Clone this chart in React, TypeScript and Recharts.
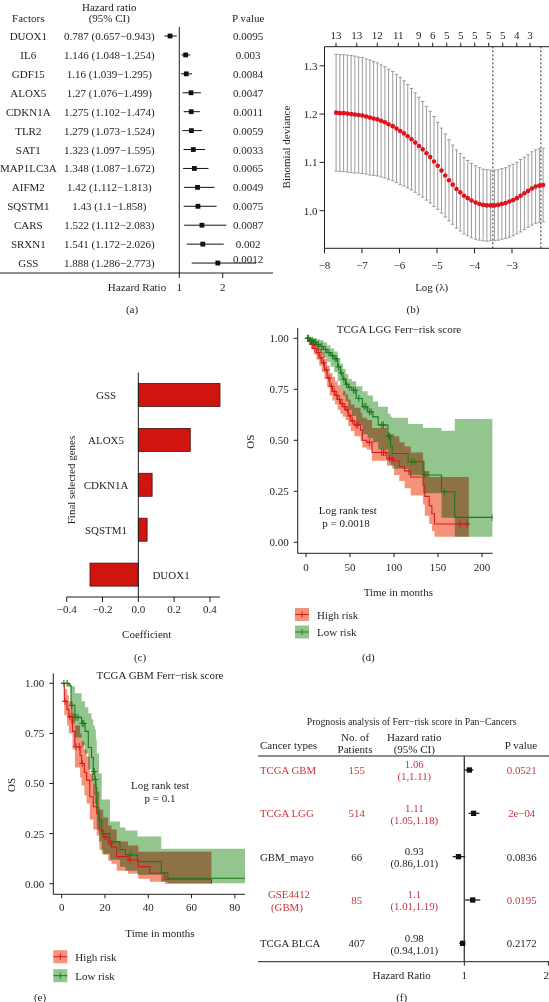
import React from 'react';
import {
  ComposedChart, BarChart, Bar, Line, Area, Scatter, XAxis, YAxis,
  ErrorBar, ReferenceLine,
} from 'recharts';

const W = 549;
const H = 1002;
const FONT = "'Liberation Serif', 'Times New Roman', 'DejaVu Serif', serif";
const INK = '#1e1e1e';
const RED_TXT = '#c9343c';

// ---------------- (a) univariate Cox forest ----------------
const factorNames = ['DUOX1', 'IL6', 'GDF15', 'ALOX5', 'CDKN1A', 'TLR2', 'SAT1', 'MAP1LC3A', 'AIFM2', 'SQSTM1', 'CARS', 'SRXN1', 'GSS'];
const factorHR = [0.787, 1.146, 1.16, 1.27, 1.275, 1.279, 1.323, 1.348, 1.42, 1.43, 1.522, 1.541, 1.888];
const factorLow = [0.657, 1.048, 1.039, 1.076, 1.102, 1.073, 1.097, 1.087, 1.112, 1.1, 1.112, 1.172, 1.286];
const factorHigh = [0.943, 1.254, 1.295, 1.499, 1.474, 1.524, 1.595, 1.672, 1.813, 1.858, 2.083, 2.026, 2.773];
const factorHRText = ['0.787 (0.657−0.943)', '1.146 (1.048−1.254)', '1.16 (1.039−1.295)', '1.27 (1.076−1.499)', '1.275 (1.102−1.474)', '1.279 (1.073−1.524)', '1.323 (1.097−1.595)', '1.348 (1.087−1.672)', '1.42 (1.112−1.813)', '1.43 (1.1−1.858)', '1.522 (1.112−2.083)', '1.541 (1.172−2.026)', '1.888 (1.286−2.773)'];
const factorP = ['0.0095', '0.003', '0.0084', '0.0047', '0.0011', '0.0059', '0.0033', '0.0065', '0.0049', '0.0075', '0.0087', '0.002', '0.0012'];
const hrTicksA = [1, 2];

// ---------------- (b) LASSO CV curve ----------------
const logLambda = [-7.69, -7.59, -7.49, -7.39, -7.29, -7.19, -7.09, -6.99, -6.89, -6.79, -6.69, -6.59, -6.49, -6.39, -6.29, -6.18, -6.08, -5.98, -5.88, -5.78, -5.68, -5.58, -5.48, -5.38, -5.28, -5.18, -5.08, -4.98, -4.88, -4.78, -4.68, -4.58, -4.48, -4.38, -4.28, -4.18, -4.08, -3.97, -3.87, -3.77, -3.67, -3.57, -3.47, -3.37, -3.27, -3.17, -3.07, -2.97, -2.87, -2.77, -2.67, -2.57, -2.47, -2.37, -2.27, -2.17];
const devMean = [1.203, 1.202, 1.202, 1.201, 1.2, 1.199, 1.198, 1.197, 1.195, 1.193, 1.191, 1.189, 1.186, 1.183, 1.179, 1.175, 1.17, 1.165, 1.16, 1.154, 1.148, 1.141, 1.134, 1.127, 1.119, 1.111, 1.102, 1.093, 1.083, 1.073, 1.063, 1.054, 1.045, 1.038, 1.031, 1.026, 1.021, 1.017, 1.014, 1.012, 1.011, 1.011, 1.011, 1.012, 1.014, 1.016, 1.019, 1.022, 1.026, 1.031, 1.036, 1.041, 1.046, 1.05, 1.052, 1.053];
const devSE = [0.121, 0.121, 0.121, 0.121, 0.121, 0.121, 0.12, 0.12, 0.119, 0.119, 0.118, 0.117, 0.116, 0.115, 0.114, 0.113, 0.112, 0.111, 0.109, 0.107, 0.105, 0.103, 0.101, 0.099, 0.097, 0.095, 0.093, 0.09, 0.088, 0.086, 0.084, 0.082, 0.081, 0.08, 0.079, 0.078, 0.077, 0.076, 0.075, 0.074, 0.074, 0.073, 0.073, 0.073, 0.073, 0.073, 0.074, 0.074, 0.074, 0.075, 0.075, 0.075, 0.076, 0.076, 0.076, 0.076];
const topTickPos = [-7.693, -7.141, -6.592, -6.032, -5.488, -5.115, -4.741, -4.368, -3.995, -3.621, -3.248, -2.875, -2.52];
const topTickLabels = ['13', '13', '12', '11', '9', '6', '5', '5', '5', '5', '5', '4', '3'];
const lambdaMin = -3.51;
const lambda1se = -2.23;
const xTicksB = [-8, -7, -6, -5, -4, -3];
const yTicksB = [1.0, 1.1, 1.2, 1.3];

// ---------------- (c) coefficients ----------------
const genes = ['GSS', 'ALOX5', 'CDKN1A', 'SQSTM1', 'DUOX1'];
const coefs = [0.456, 0.29, 0.077, 0.049, -0.27];
const coefTicks = [-0.4, -0.2, 0, 0.2, 0.4];

// ---------------- (d) TCGA LGG KM ----------------
const lggHighT = [0, 3, 6, 9, 12, 15, 18, 21, 24, 27, 30, 33, 36, 39, 42, 45, 48, 51, 55, 62, 64, 69, 75, 92, 100, 106, 112, 119, 133, 135, 140, 143, 146, 185];
const lggHighS = [1, 0.985, 0.97, 0.95, 0.93, 0.905, 0.88, 0.845, 0.805, 0.765, 0.74, 0.72, 0.7, 0.68, 0.665, 0.648, 0.62, 0.595, 0.575, 0.55, 0.5, 0.49, 0.44, 0.41, 0.4, 0.37, 0.35, 0.32, 0.28, 0.225, 0.18, 0.14, 0.09, 0.09];
const lggHighUp = [1, 1, 0.995, 0.985, 0.97, 0.95, 0.93, 0.9, 0.865, 0.83, 0.81, 0.79, 0.77, 0.755, 0.74, 0.725, 0.7, 0.675, 0.66, 0.635, 0.61, 0.6, 0.56, 0.53, 0.52, 0.49, 0.47, 0.44, 0.4, 0.35, 0.32, 0.32, 0.32, 0.32];
const lggHighLow = [1, 0.97, 0.945, 0.92, 0.895, 0.865, 0.835, 0.8, 0.76, 0.72, 0.695, 0.675, 0.65, 0.63, 0.615, 0.6, 0.57, 0.545, 0.52, 0.495, 0.465, 0.455, 0.4, 0.375, 0.33, 0.3, 0.265, 0.23, 0.185, 0.13, 0.09, 0.055, 0.027, 0.027];
const lggHighCens = [2, 5, 7, 10, 14, 17, 20, 23, 26, 29, 32, 35, 38, 41, 44, 47, 50, 53, 57, 59, 72, 86, 88, 90, 95, 98, 175, 183];

const lggLowT = [0, 4, 8, 12, 16, 20, 24, 28, 32, 36, 39, 42, 45, 48, 52, 57, 64, 70, 76, 82, 93, 96, 98, 116, 133, 154, 169, 212];
const lggLowS = [1, 0.99, 0.98, 0.97, 0.96, 0.945, 0.93, 0.915, 0.9, 0.86, 0.83, 0.8, 0.775, 0.76, 0.745, 0.705, 0.665, 0.64, 0.615, 0.575, 0.52, 0.47, 0.435, 0.395, 0.33, 0.248, 0.122, 0.122];
const lggLowUp = [1, 1, 1, 0.995, 0.99, 0.98, 0.965, 0.95, 0.935, 0.9, 0.875, 0.85, 0.825, 0.8, 0.79, 0.765, 0.74, 0.72, 0.69, 0.665, 0.63, 0.615, 0.61, 0.58, 0.56, 0.547, 0.604, 0.604];
const lggLowLow = [1, 0.975, 0.96, 0.94, 0.925, 0.905, 0.885, 0.86, 0.835, 0.79, 0.755, 0.72, 0.69, 0.65, 0.62, 0.575, 0.53, 0.51, 0.49, 0.455, 0.4, 0.38, 0.36, 0.33, 0.24, 0.12, 0.027, 0.027];
const lggLowCens = [2, 3, 5, 7, 9, 11, 14, 18, 22, 26, 30, 33, 35, 37, 40, 43, 46, 49, 54, 56, 60, 66, 68, 72, 74, 86, 88, 94, 95, 120, 123, 135, 157, 211.5];
const lggTicks = [0, 50, 100, 150, 200];

// ---------------- (e) TCGA GBM KM ----------------
const gbmHighT = [0, 1.2, 2.5, 3.3, 5, 6.1, 8.5, 9.2, 10.5, 11.5, 13, 14.6, 16.2, 17.4, 19.2, 21.5, 23, 25.4, 30.7, 35.4, 40.7, 47.7, 69.2];
const gbmHighS = [1, 0.91, 0.87, 0.833, 0.76, 0.684, 0.64, 0.6, 0.555, 0.517, 0.434, 0.384, 0.35, 0.267, 0.234, 0.2, 0.184, 0.135, 0.118, 0.085, 0.052, 0.022, 0];
const gbmHighUp = [1, 0.97, 0.94, 0.91, 0.85, 0.79, 0.75, 0.71, 0.67, 0.635, 0.55, 0.5, 0.46, 0.37, 0.33, 0.29, 0.27, 0.21, 0.19, 0.16, 0.16, 0.16, 0.16];
const gbmHighLow = [1, 0.84, 0.79, 0.75, 0.67, 0.58, 0.53, 0.49, 0.44, 0.4, 0.32, 0.27, 0.24, 0.17, 0.145, 0.115, 0.1, 0.065, 0.05, 0.025, 0.01, 0, 0];
const gbmHighCens = [1.5, 3.8, 6.6, 8.1, 9.5, 20.1, 22.8, 31.6];

const gbmLowT = [0, 3.2, 4.3, 6.1, 9.2, 10.8, 12.3, 13.8, 14.6, 15.3, 15.8, 16.2, 17.2, 18.5, 22.3, 26.9, 29.5, 35, 46, 49, 84.7];
const gbmLowS = [1, 0.99, 0.89, 0.83, 0.8, 0.76, 0.68, 0.63, 0.56, 0.52, 0.48, 0.38, 0.317, 0.25, 0.21, 0.17, 0.143, 0.11, 0.055, 0.027, 0.027];
const gbmLowUp = [1, 1, 0.985, 0.95, 0.91, 0.88, 0.85, 0.82, 0.79, 0.77, 0.72, 0.65, 0.55, 0.42, 0.31, 0.28, 0.265, 0.235, 0.175, 0.175, 0.175];
const gbmLowLow = [1, 0.98, 0.8, 0.73, 0.69, 0.65, 0.57, 0.51, 0.44, 0.4, 0.36, 0.27, 0.21, 0.15, 0.12, 0.085, 0.065, 0.045, 0.01, 0.002, 0.002];
const gbmLowCens = [1, 2.5, 4.6, 6.5, 7.5, 9.5, 10.2, 14.8, 15, 15.5, 31.7];
const gbmTicks = [0, 20, 40, 60, 80];

const survTicks = [0, 0.25, 0.5, 0.75, 1];

// ---------------- (f) pan-cancer forest ----------------
const cohorts = [['TCGA GBM'], ['TCGA LGG'], ['GBM_mayo'], ['GSE4412', '(GBM)'], ['TCGA BLCA']];
const cohortN = ['155', '514', '66', '85', '407'];
const cohortHR = [1.06, 1.11, 0.93, 1.1, 0.98];
const cohortLow = [1, 1.05, 0.86, 1.01, 0.94];
const cohortHigh = [1.11, 1.18, 1.01, 1.19, 1.01];
const cohortHRText = [['1.06', '(1,1.11)'], ['1.11', '(1.05,1.18)'], ['0.93', '(0.86,1.01)'], ['1.1', '(1.01,1.19)'], ['0.98', '(0.94,1.01)']];
const cohortP = ['0.0521', '2e−04', '0.0836', '0.0195', '0.2172'];
const cohortSig = [true, true, false, true, false];
const hrTicksF = [1, 2];

// ---------------- helpers ----------------
const minus = (s: string) => s.replace('-', '−');
const stepAt = (T: number[], S: number[], t: number) => {
  let v = S[0];
  for (let i = 0; i < T.length; i++) if (T[i] <= t) v = S[i];
  return v;
};
const kmRows = (T: number[], S: number[], LO: number[], UP: number[]) =>
  T.map((t, i) => ({ t, s: S[i], lo: LO[i], hi: UP[i] }));
const censRows = (C: number[], T: number[], S: number[]) => C.map((t) => ({ t, s: stepAt(T, S, t) }));

const tickStyle = { fill: INK, fontSize: 11, fontFamily: FONT };

const forestA = factorNames.map((name, i) => ({
  row: i, hr: factorHR[i], err: [factorHR[i] - factorLow[i], factorHigh[i] - factorHR[i]],
  name, hrText: factorHRText[i], p: factorP[i],
}));
const cvData = logLambda.map((x, i) => ({ x, mean: devMean[i], se: devSE[i] }));
const coefData = genes.map((gene, i) => ({ gene, coef: coefs[i] }));
const forestF = cohorts.map((name, i) => ({
  row: i + 1, hr: cohortHR[i], err: [cohortHR[i] - cohortLow[i], cohortHigh[i] - cohortHR[i]],
  name, n: cohortN[i], hrText: cohortHRText[i], p: cohortP[i], sig: cohortSig[i],
}));

const Square = (size: number) => (p: any) => (
  <rect x={p.cx - size / 2} y={p.cy - size / 2} width={size} height={size} fill="#111" />
);
const Empty = () => <g />;
const Plus = (color: string) => (p: any) => (
  <g stroke={color} strokeWidth={1}>
    <line x1={p.cx - 3} x2={p.cx + 3} y1={p.cy} y2={p.cy} />
    <line x1={p.cx} x2={p.cx} y1={p.cy - 3.5} y2={p.cy + 3.5} />
  </g>
);

const FactorRowText = (p: any) => {
  const d = p.payload;
  const cy = p.cy;
  const pdy = d.row === factorNames.length - 1 ? -4.5 : 0;
  return (
    <g fontFamily={FONT} fontSize={11} fill={INK}>
      <text x={28.3} y={cy} textAnchor="middle" dominantBaseline="central">{d.name}</text>
      <text x={109.3} y={cy} textAnchor="middle" dominantBaseline="central">{d.hrText}</text>
      <text x={248.2} y={cy + pdy} textAnchor="middle" dominantBaseline="central">{d.p}</text>
    </g>
  );
};

const CohortRowText = (p: any) => {
  const d = p.payload;
  const cy = p.cy;
  const c = d.sig ? RED_TXT : INK;
  return (
    <g fontFamily={FONT} fontSize={10.8} fill={c}>
      {d.name.length === 1 ? (
        <text x={260} y={cy} dominantBaseline="central">{d.name[0]}</text>
      ) : (
        <>
          <text x={268} y={cy - 6} dominantBaseline="central">{d.name[0]}</text>
          <text x={271} y={cy + 7} dominantBaseline="central">{d.name[1]}</text>
        </>
      )}
      <text x={356.7} y={cy} textAnchor="middle" dominantBaseline="central">{d.n}</text>
      <text x={414.3} y={cy - 5.5} textAnchor="middle" dominantBaseline="central">{d.hrText[0]}</text>
      <text x={414.3} y={cy + 6.5} textAnchor="middle" dominantBaseline="central">{d.hrText[1]}</text>
      <text x={521.7} y={cy} textAnchor="middle" dominantBaseline="central">{d.p}</text>
    </g>
  );
};

const CoefBar = (p: any) => {
  const { x, y, width, height, payload } = p;
  const left = Math.min(x, x + width);
  const w = Math.abs(width);
  const pos = payload.coef >= 0;
  const zero = pos ? left : left + w;
  return (
    <g>
      <rect x={left} y={y} width={w} height={height} fill="#d0140f" stroke="#4a1212" strokeWidth={0.8} />
      <text x={pos ? zero - 32.3 : zero + 32.7} y={y + height / 2} textAnchor="middle" dominantBaseline="central"
        fontFamily={FONT} fontSize={11} fill={INK}>{payload.gene}</text>
    </g>
  );
};

const full = { position: 'absolute' as const, left: 0, top: 0 };

function KM(props: any) {
  const { hi, lo, hiC, loC, margin, xDomain, xTicks, yDomain, xMargin } = props;
  return (
    <div style={full}>
      <ComposedChart width={W} height={H} margin={margin}>
        <XAxis dataKey="t" type="number" domain={xDomain} ticks={xTicks} allowDataOverflow height={30}
          tickSize={4} tickMargin={xMargin} stroke={INK} tick={tickStyle} />
        <YAxis type="number" domain={yDomain} ticks={survTicks} allowDataOverflow width={40}
          tickSize={4} tickMargin={5} stroke={INK} tick={tickStyle} tickFormatter={(v: number) => v.toFixed(2)} />
        <Area data={hi} dataKey={(d: any) => [d.lo, d.hi]} type="stepAfter" fill="#f4937a" fillOpacity={1}
          stroke="none" isAnimationActive={false} activeDot={false} />
        <Area data={lo} dataKey={(d: any) => [d.lo, d.hi]} type="stepAfter" fill="#93c58f" fillOpacity={1}
          stroke="none" className="km-mult" isAnimationActive={false} activeDot={false} />
        <Line data={hi} dataKey="s" type="stepAfter" stroke="#d7191c" strokeWidth={1.1} dot={false} activeDot={false} isAnimationActive={false} />
        <Line data={lo} dataKey="s" type="stepAfter" stroke="#1a7a1a" strokeWidth={1.1} dot={false} activeDot={false} isAnimationActive={false} />
        <Scatter data={hiC} dataKey="s" shape={Plus('#d7191c')} isAnimationActive={false} />
        <Scatter data={loC} dataKey="s" shape={Plus('#1a7a1a')} isAnimationActive={false} />
      </ComposedChart>
    </div>
  );
}

const LegendKey = ({ x, y, fill, stroke, label }: any) => (
  <g>
    <rect x={x} y={y - 6.5} width={14} height={13} fill={fill} />
    <line x1={x} x2={x + 14} y1={y} y2={y} stroke={stroke} strokeWidth={1} />
    <line x1={x + 7} x2={x + 7} y1={y - 3} y2={y + 3} stroke={stroke} strokeWidth={1} />
    <text x={x + 22} y={y} dominantBaseline="central" fontFamily={FONT} fontSize={11} fill={INK}>{label}</text>
  </g>
);

const T = ({ x, y, children, anchor = 'middle', size = 11, rotate = false, fill = INK }: any) => (
  <text x={x} y={y} textAnchor={anchor} dominantBaseline="central" fontFamily={FONT} fontSize={size} fill={fill}
    transform={rotate ? `rotate(-90 ${x} ${y})` : undefined}>{children}</text>
);

export default function App() {
  const lggHi = kmRows(lggHighT, lggHighS, lggHighLow, lggHighUp);
  const lggLo = kmRows(lggLowT, lggLowS, lggLowLow, lggLowUp);
  const gbmHi = kmRows(gbmHighT, gbmHighS, gbmHighLow, gbmHighUp);
  const gbmLo = kmRows(gbmLowT, gbmLowS, gbmLowLow, gbmLowUp);

  return (
    <div style={{ position: 'absolute', left: 0, top: 0, width: W, height: H, overflow: 'hidden', background: '#fff' }}>
      <style>{`.km-mult { mix-blend-mode: multiply; }`}</style>

      {/* (a) */}
      <div style={full}>
        <ComposedChart width={W} height={H} margin={{ top: 27, right: 276, bottom: 699, left: 0 }}>
          <XAxis dataKey="hr" type="number" domain={[-3.131, 3.159]} ticks={hrTicksA} height={30}
            tickSize={5} tickMargin={5} stroke={INK} tick={tickStyle} />
          <YAxis type="number" domain={[-0.476, 12.526]} reversed hide />
          <ReferenceLine x={1} stroke={INK} strokeWidth={1} />
          <Scatter data={forestA} dataKey="row" shape={FactorRowText} isAnimationActive={false} />
          <Scatter data={forestA} dataKey="row" shape={Square(4.8)} isAnimationActive={false}>
            <ErrorBar dataKey="err" direction="x" width={0} stroke="#111" strokeWidth={1} isAnimationActive={false} />
          </Scatter>
        </ComposedChart>
      </div>

      {/* (b) */}
      <div style={full}>
        <ComposedChart width={W} height={H} margin={{ top: 16.7, right: 0, bottom: 723.7, left: 284.5 }}>
          <XAxis xAxisId="b" dataKey="x" type="number" domain={[-8, -2.013]} ticks={xTicksB} allowDataOverflow
            height={30} tickSize={5} tickMargin={7.6} stroke={INK} tick={tickStyle}
            tickFormatter={(v: number) => minus(String(v))} />
          <XAxis xAxisId="t" orientation="top" dataKey="x" type="number" domain={[-8, -2.013]} ticks={topTickPos}
            allowDataOverflow height={30} tickSize={4} tickMargin={3.8} stroke={INK} tick={tickStyle}
            tickFormatter={(v: number) => topTickLabels[topTickPos.indexOf(v)]} />
          <YAxis type="number" domain={[0.9222, 1.3395]} ticks={yTicksB} allowDataOverflow width={40}
            tickSize={5} tickMargin={2} stroke={INK} tick={tickStyle} tickFormatter={(v: number) => v.toFixed(1)} />
          <ReferenceLine xAxisId="b" x={lambdaMin} stroke="#333" strokeDasharray="2 2" />
          <ReferenceLine xAxisId="b" x={lambda1se} stroke="#333" strokeDasharray="2 2" />
          <Scatter xAxisId="b" data={cvData} dataKey="mean" shape={Empty} isAnimationActive={false}>
            <ErrorBar dataKey="se" direction="y" width={1.7} stroke="#9a9a9a" strokeWidth={1} isAnimationActive={false} />
          </Scatter>
          <Scatter xAxisId="b" data={cvData} dataKey="mean" isAnimationActive={false}
            shape={(p: any) => <circle cx={p.cx} cy={p.cy} r={2.3} fill="#e3121a" />} />
        </ComposedChart>
      </div>

      {/* (c) */}
      <div style={full}>
        <BarChart width={W} height={H} layout="vertical" data={coefData}
          margin={{ top: 372.5, right: 329, bottom: 375, left: 66.7 }}>
          <XAxis type="number" domain={[-0.4, 0.4]} ticks={coefTicks} height={30} tickSize={5} tickMargin={3}
            stroke={INK} tick={tickStyle} tickFormatter={(v: number) => minus(v.toFixed(1))} />
          <YAxis type="category" dataKey="gene" hide />
          <ReferenceLine x={0} stroke={INK} strokeWidth={1} />
          <Bar dataKey="coef" barSize={23} shape={CoefBar} isAnimationActive={false} />
        </BarChart>
      </div>

      {/* (d) */}
      <KM hi={lggHi} lo={lggLo}
        hiC={censRows(lggHighCens, lggHighT, lggHighS)} loC={censRows(lggLowCens, lggLowT, lggLowS)}
        margin={{ top: 328, right: 56.4, bottom: 418.7, left: 257.7 }}
        xDomain={[-9.43, 212]} xTicks={lggTicks} yDomain={[-0.0539, 1.0505]} xMargin={6.3} />

      {/* (e) */}
      <KM hi={gbmHi} lo={gbmLo}
        hiC={censRows(gbmHighCens, gbmHighT, gbmHighS)} loC={censRows(gbmLowCens, gbmLowT, gbmLowS)}
        margin={{ top: 673.3, right: 304, bottom: 77.7, left: 13.3 }}
        xDomain={[-3.877, 84.7]} xTicks={gbmTicks} yDomain={[-0.0529, 1.0499]} xMargin={5.3} />

      {/* (f) */}
      <div style={full}>
        <ComposedChart width={W} height={H} margin={{ top: 756, right: 0, bottom: 10.3, left: 258 }}>
          <XAxis dataKey="hr" type="number" domain={[-1.456, 2.008]} ticks={hrTicksF} height={30}
            tickSize={4} tickMargin={5} stroke={INK} tick={tickStyle} />
          <YAxis type="number" domain={[0.677, 5.424]} reversed hide />
          <ReferenceLine y={0.677} stroke={INK} strokeWidth={1.2} />
          <ReferenceLine x={1} stroke="#444" strokeWidth={1.4} />
          <Scatter data={forestF} dataKey="row" shape={CohortRowText} isAnimationActive={false} />
          <Scatter data={forestF} dataKey="row" shape={Square(5.3)} isAnimationActive={false}>
            <ErrorBar dataKey="err" direction="x" width={0} stroke="#111" strokeWidth={1.2} isAnimationActive={false} />
          </Scatter>
        </ComposedChart>
      </div>

      {/* static text */}
      <svg width={W} height={H} style={{ ...full, pointerEvents: 'none' }}>
        {/* (a) */}
        <T x={109.3} y={6.5}>Hazard ratio</T>
        <T x={109.3} y={17.5}>(95% CI)</T>
        <T x={28.3} y={17.5}>Factors</T>
        <T x={248.2} y={17.5}>P value</T>
        <T x={137} y={287}>Hazard Ratio</T>
        <T x={132} y={309}>(a)</T>
        {/* (b) */}
        <T x={431.7} y={287}>Log (λ)</T>
        <T x={286} y={147} rotate>Binomial deviance</T>
        <T x={413} y={309}>(b)</T>
        {/* (c) */}
        <T x={71} y={480} rotate>Final selected genes</T>
        <T x={146.7} y={634}>Coefficient</T>
        <T x={140} y={656.7}>(c)</T>
        {/* (d) */}
        <T x={399} y={329.3}>TCGA LGG Ferr−risk score</T>
        <T x={250} y={441.7} rotate>OS</T>
        <T x={347.7} y={510}>Log rank test</T>
        <T x={346} y={522.5}>p = 0.0018</T>
        <T x={398.3} y={591.7}>Time in months</T>
        <LegendKey x={295} y={614.5} fill="#f4937a" stroke="#d7191c" label="High risk" />
        <LegendKey x={295} y={632} fill="#93c58f" stroke="#1a7a1a" label="Low risk" />
        <T x={368.3} y={656.7}>(d)</T>
        {/* (e) */}
        <T x={160} y={675}>TCGA GBM Ferr−risk score</T>
        <T x={11} y={785} rotate>OS</T>
        <T x={160} y={785}>Log rank test</T>
        <T x={160} y={798.3}>p = 0.1</T>
        <T x={160} y={932.7}>Time in months</T>
        <LegendKey x={53.3} y={956.7} fill="#f4937a" stroke="#d7191c" label="High risk" />
        <LegendKey x={53.3} y={975.7} fill="#93c58f" stroke="#1a7a1a" label="Low risk" />
        <T x={40} y={996.7}>(e)</T>
        {/* (f) */}
        <T x={411.7} y={721} size={9.8}>Prognosis analysis of Ferr−risk score in Pan−Cancers</T>
        <T x={260} y={745.3} anchor="start">Cancer types</T>
        <T x={355} y={736.7}>No. of</T>
        <T x={355} y={749.3}>Patients</T>
        <T x={414.3} y={736.7}>Hazard ratio</T>
        <T x={414.3} y={749.3}>(95% CI)</T>
        <T x={521} y={745.3}>P value</T>
        <T x={401.7} y={975}>Hazard Ratio</T>
        <T x={401.7} y={997.3}>(f)</T>
      </svg>
    </div>
  );
}
